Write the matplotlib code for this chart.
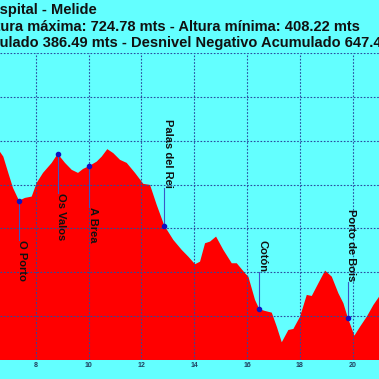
import numpy as np
import matplotlib.pyplot as plt

plt.rcParams["font.family"] = ["Liberation Sans", "DejaVu Sans"]

# perfil (km, m)
dist = [6.60, 6.648, 6.773, 6.962, 7.140, 7.367, 7.595, 7.848, 8.038, 8.277,
        8.606, 8.833, 9.110, 9.364, 9.602, 9.792, 10.030, 10.311, 10.500, 10.712,
        10.939, 11.193, 11.447, 11.761, 12.076, 12.330, 12.583, 12.871, 13.212, 13.530,
        13.780, 14.034, 14.223, 14.413, 14.602, 14.830, 15.106, 15.424, 15.614, 15.928,
        16.053, 16.307, 16.470, 16.686, 16.939, 17.129, 17.318, 17.568, 17.758, 18.011,
        18.265, 18.455, 18.705, 18.958, 19.212, 19.462, 19.652, 19.818, 20.068, 20.284,
        20.538, 20.788, 21.004, 21.200]
elev = [641.0, 637.3, 631.9, 613.3, 596.2, 581.7, 584.8, 586.3, 601.9, 613.3,
        624.7, 635.0, 624.7, 616.8, 613.3, 617.8, 621.2, 626.2, 631.9, 640.4,
        635.8, 628.2, 624.7, 613.3, 600.8, 599.6, 576.8, 553.2, 536.9, 525.5,
        517.8, 509.2, 512.1, 533.1, 535.0, 540.7, 525.5, 510.3, 510.3, 498.9,
        495.0, 468.4, 457.9, 455.9, 454.0, 438.0, 420.2, 434.2, 435.4, 449.4,
        474.2, 473.0, 487.5, 501.9, 495.0, 476.1, 464.7, 448.3, 427.7, 438.0,
        449.4, 462.7, 472.2, 478.0]

# puntos de paso
wp_names = ["O Porto", "Os Valos", "A Brea", "Palas del Rei", "Cotón", "Porto de Bois"]
wp_km = [7.367, 8.833, 10.030, 12.871, 16.470, 19.818]
wp_alt = [581.7, 635.0, 621.2, 553.2, 457.9, 448.3]
wp_label_alt = [536.9, 590.5, 574.5, 596.2, 500.7, 489.3]

titulo = "Hospital - Melide"
alturas = "Altura máxima: 724.78 mts - Altura mínima: 408.22 mts"
desnivel = "Desnivel Positivo Acumulado 386.49 mts - Desnivel Negativo Acumulado 647.4"

bg = "#63ffff"
fig = plt.figure(figsize=(3.79, 3.79), dpi=100, facecolor=bg)
ax = fig.add_axes([0, 19/379, 1, 307/379], facecolor=bg)

ax.fill_between(dist, elev, 0, color="#ff0000", linewidth=0, zorder=1)

for name, km, alt, ly in zip(wp_names, wp_km, wp_alt, wp_label_alt):
    ax.plot([km, km], [alt, ly], color="#3a58c8", lw=0.8, zorder=4)
    ax.plot(km, alt, "o", color="#1010c0", ms=3, zorder=5)
    va = "top" if ly < alt else "bottom"
    ax.annotate(name, xy=(km, ly), xytext=(2.5, 0), textcoords="offset points",
                rotation=-90, ha="center", va=va, fontsize=8, fontweight="bold",
                color="#111111", zorder=6)

ax.set_xticks(np.arange(6, 22, 2))
ax.set_yticks(np.arange(400, 751, 50))
ax.set_xlim(6.648, 21.0)
ax.set_ylim(400, 750)
ax.set_axisbelow(False)
ax.grid(True, color="#2a4aa0", linestyle=(0, (1.5, 1.5)), linewidth=0.8)
ax.tick_params(axis="x", length=0, pad=1.5, labelsize=5, labelcolor="#1f3f5f")
ax.tick_params(axis="y", length=0, labelleft=False)
for lab in ax.get_xticklabels():
    lab.set_fontweight("bold")
for s in ax.spines.values():
    s.set_visible(False)

# cabecera: el inicio de cada linea queda fuera del recorte
renderer = fig.canvas.get_renderer()
for txt, hidden, yb in [(titulo, "Ho", 14), (alturas, "Alt", 31),
                        (desnivel, "Desnivel Positivo Acum", 47.5)]:
    probe = fig.text(0, 0, hidden, fontsize=10.5, fontweight="bold")
    w = probe.get_window_extent(renderer).width
    probe.remove()
    fig.text(-w / 379, 1 - yb / 379, txt, fontsize=10.5, fontweight="bold",
             color="#111111", ha="left", va="baseline")

fig.savefig("out.png", dpi=100, facecolor=bg)
